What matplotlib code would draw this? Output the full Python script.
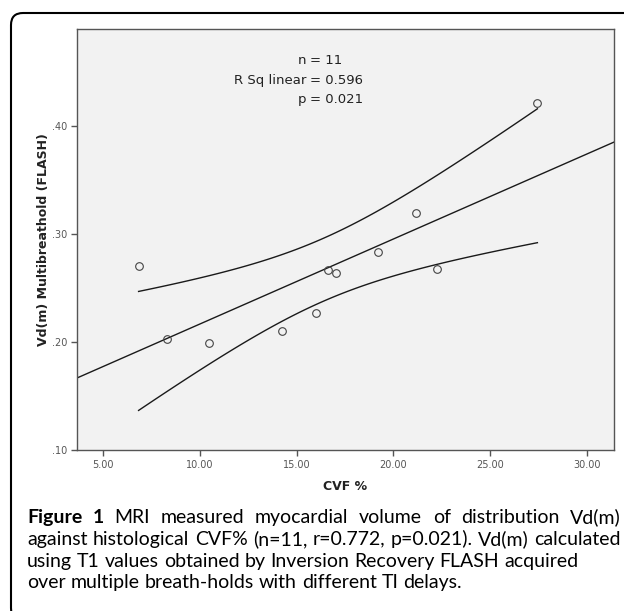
import matplotlib
matplotlib.use('Agg')
import matplotlib.pyplot as plt
import numpy as np
from matplotlib.patches import FancyBboxPatch

# data
cvf = [6.83, 8.28, 10.47, 14.26, 16.00, 16.62, 17.05, 19.21, 21.19, 22.28, 27.45]
vdm = [0.270, 0.203, 0.199, 0.210, 0.227, 0.267, 0.264, 0.283, 0.319, 0.268, 0.421]
x_ticks = [5, 10, 15, 20, 25, 30]
y_ticks = [0.10, 0.20, 0.30, 0.40]
stats_left = ['n', 'R Sq linear', 'p']
stats_right = ['= 11', '= 0.596', '= 0.021']
caption_lines = [
    'Figure 1 MRI measured myocardial volume of distribution Vd(m)',
    'against histological CVF% (n=11, r=0.772, p=0.021). Vd(m) calculated',
    'using T1 values obtained by Inversion Recovery FLASH acquired',
    'over multiple breath-holds with different TI delays.',
]

W, H = 624, 611
fig = plt.figure(figsize=(W / 100, H / 100), dpi=100)
fig.patch.set_facecolor('white')

# rounded frame round the whole figure panel
frame = FancyBboxPatch((0.11, -0.09), 6.5, 6.07, boxstyle='round,pad=0,rounding_size=0.12',
                       transform=fig.dpi_scale_trans, fill=False, ec='black', lw=1.5, clip_on=False)
fig.add_artist(frame)

ax = fig.add_axes([76.7 / W, 1 - 450 / H, (614 - 76.7) / W, (450 - 29.3) / H])
ax.set_facecolor('#f2f2f2')
ax.set_xlim(3.63, 31.41)
ax.set_ylim(0.10, 0.4895)

x = np.array(cvf)
y = np.array(vdm)
slope, icpt = np.polyfit(x, y, 1)

# fit line over the full axis
xl = np.linspace(3.63, 31.41, 50)
ax.plot(xl, icpt + slope * xl, color='#1a1a1a', lw=1.0)

# 95% confidence band of the mean
xb = np.linspace(x.min(), x.max(), 100)
resid = y - (icpt + slope * x)
s = np.sqrt((resid ** 2).sum() / (len(x) - 2))
se = s * np.sqrt(1 / len(x) + (xb - x.mean()) ** 2 / ((x - x.mean()) ** 2).sum())
fit = icpt + slope * xb
ax.plot(xb, fit + 2.262 * se, color='#1a1a1a', lw=1.0)
ax.plot(xb, fit - 2.262 * se, color='#1a1a1a', lw=1.0)

ax.plot(x, y, 'o', mfc='none', mec='#444444', ms=5.5, mew=0.8)

ax.set_xticks(x_ticks)
ax.set_xticklabels(['%.2f' % v for v in x_ticks])
ax.set_yticks(y_ticks)
ax.set_yticklabels([('%.2f' % v)[1:] for v in y_ticks])
ax.tick_params(labelsize=7, colors='#555555', length=4, width=1, pad=3)
for sp in ax.spines.values():
    sp.set_color('#555555')
    sp.set_linewidth(1.0)

ax.set_xlabel('CVF %', fontsize=9, fontweight='bold', color='#222222')
ax.xaxis.set_label_coords(0.5, (450 - 486) / (450 - 29.3))
ax.set_ylabel('Vd(m) Multibreathold (FLASH)', fontsize=9, fontweight='bold', color='#222222')
ax.yaxis.set_label_coords((44 - 76.7) / (614 - 76.7), 0.5)
ax.xaxis.label.set_va('center')
ax.yaxis.label.set_va('center')

# stats box text, lined up on the "=" sign
for i in range(3):
    yb = 1 - (64.3 + 19.5 * i) / H
    fig.text(306 / W, yb, stats_left[i], ha='right', va='baseline', fontsize=9.5, color='#222222')
    fig.text(310 / W, yb, stats_right[i], ha='left', va='baseline', fontsize=9.5, color='#222222')

# caption, first two lines justified
cap_font = 'Lato'
cap_size = 14
x0, x1 = 27, 621
rend = fig.canvas.get_renderer()


def text_width(t, bold=False):
    tt = fig.text(0, 0, t, fontsize=cap_size, family=cap_font, fontweight='bold' if bold else 'normal')
    w = tt.get_window_extent(rend).width
    tt.remove()
    return w


space = text_width('a a') - text_width('aa')
for i, line in enumerate(caption_lines):
    yb = 1 - (523 + 21.8 * i) / H
    words = line.split(' ')
    texts = []
    for j, w in enumerate(words):
        bold = (i == 0 and j < 2)
        t = fig.text(0, yb, w, fontsize=cap_size, family=cap_font, va='baseline',
                     fontweight='bold' if bold else 'normal', color='black')
        texts.append(t)
    widths = [t.get_window_extent(rend).width for t in texts]
    if i < 2:
        gap = (x1 - x0 - sum(widths)) / (len(texts) - 1)
    else:
        gap = space
    xp = x0
    for t, w in zip(texts, widths):
        t.set_x(xp / W)
        xp += w + gap

fig.savefig('out.png', dpi=100)
